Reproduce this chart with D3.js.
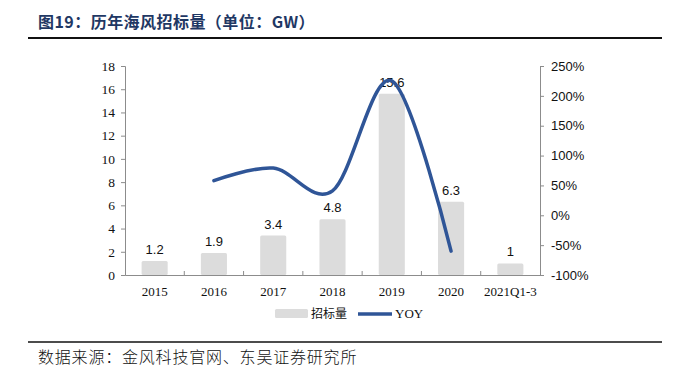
<!DOCTYPE html>
<html><head><meta charset="utf-8">
<script src="https://cdn.jsdelivr.net/npm/d3@7"></script>
<style>body{margin:0;background:#fff}svg{display:block}</style>
</head><body><svg id="c" width="690" height="378"></svg>
<script>
const categories = ["2015","2016","2017","2018","2019","2020","2021Q1-3"];
const bidVolume = [1.2, 1.9, 3.4, 4.8, 15.6, 6.3, 1];
const yoyCategories = ["2016","2017","2018","2019","2020"];
const yoyValues = [58, 79, 41, 225, -60];
const leftTicks = [0,2,4,6,8,10,12,14,16,18];
const rightTicks = [-100,-50,0,50,100,150,200,250];

const svg = d3.select("#c");
const L = 125, R = 540, T = 66, B = 275;
const x = d3.scaleBand().domain(categories).range([L, R]).paddingInner(0.56).paddingOuter(0.28);
const xb = d3.scaleBand().domain(categories).range([L, R]);
const y = d3.scaleLinear().domain([0, 18]).range([B, T]);
const y2 = d3.scaleLinear().domain([-100, 250]).range([B, T]);
const axisCol = "#8c8c8c";

// title
svg.append("text").attr("x", 38).attr("y", 28)
  .attr("font-family", "'Noto Sans CJK SC', sans-serif").attr("font-weight", "bold")
  .attr("font-size", 16).attr("letter-spacing", 0.45).attr("fill", "#1f3864").text("图19：历年海风招标量（单位：GW）");
svg.append("line").attr("x1", 28).attr("x2", 662).attr("y1", 38).attr("y2", 38)
  .attr("stroke", "#111").attr("stroke-width", 2);

// bars
svg.append("g").selectAll("rect").data(categories).join("rect")
  .attr("x", d => x(d)).attr("width", x.bandwidth())
  .attr("y", (d,i) => y(bidVolume[i])).attr("height", (d,i) => B - y(bidVolume[i]))
  .attr("rx", 1.5).attr("fill", "#dcdcdc");

// bar labels
svg.append("g").selectAll("text").data(categories).join("text")
  .attr("x", d => x(d) + x.bandwidth()/2).attr("y", (d,i) => y(bidVolume[i]) - 7)
  .attr("text-anchor", "middle").attr("font-family", "'Liberation Sans', Arial, sans-serif")
  .attr("font-size", 13).attr("fill", "#111")
  .text((d,i) => bidVolume[i]);

// left axis
const gl = svg.append("g").attr("transform", `translate(${L},0)`)
  .call(d3.axisLeft(y).tickValues(leftTicks).tickSize(4).tickPadding(6));
gl.select(".domain").attr("stroke", axisCol);
gl.selectAll("line").attr("stroke", axisCol);
gl.selectAll("text").attr("font-family", "'Liberation Serif', 'Times New Roman', serif").attr("font-size", 13.5).attr("fill", "#111");

// right axis
const gr = svg.append("g").attr("transform", `translate(${R},0)`)
  .call(d3.axisRight(y2).tickValues(rightTicks).tickSize(4).tickPadding(7).tickFormat(d => d + "%"));
gr.select(".domain").attr("stroke", axisCol);
gr.selectAll("line").attr("stroke", axisCol);
gr.selectAll("text").attr("font-family", "'Liberation Sans', Arial, sans-serif").attr("font-size", 13).attr("fill", "#111");

// x axis
const gx = svg.append("g").attr("transform", `translate(0,${B})`)
  .call(d3.axisBottom(xb).tickSize(0).tickPadding(12));
gx.select(".domain").attr("stroke", axisCol).attr("stroke-width", 1.2);
gx.selectAll("text").attr("font-family", "'Liberation Serif', 'Times New Roman', serif").attr("font-size", 13).attr("fill", "#111");
svg.append("g").selectAll("line").data(categories.slice(1)).join("line")
  .attr("x1", d => xb(d)).attr("x2", d => xb(d)).attr("y1", B).attr("y2", B - 4)
  .attr("stroke", axisCol);

// yoy line
const line = d3.line().x((d,i) => xb(yoyCategories[i]) + xb.bandwidth()/2).y(d => y2(d))
  .curve(d3.curveCatmullRom.alpha(0));
svg.append("path").datum(yoyValues).attr("d", line)
  .attr("fill", "none").attr("stroke", "#2f5597").attr("stroke-width", 3.5).attr("stroke-linecap", "round");

// legend
svg.append("rect").attr("x", 275).attr("y", 309).attr("width", 33).attr("height", 9).attr("rx", 1.5).attr("fill", "#dcdcdc");
svg.append("text").attr("x", 311).attr("y", 318).attr("font-family", "'Noto Sans CJK SC', serif")
  .attr("font-size", 12).attr("fill", "#111").text("招标量");
svg.append("line").attr("x1", 358).attr("x2", 392).attr("y1", 314).attr("y2", 314)
  .attr("stroke", "#2f5597").attr("stroke-width", 3.5);
svg.append("text").attr("x", 395).attr("y", 318).attr("font-family", "'Liberation Serif', serif")
  .attr("font-size", 13).attr("fill", "#111").text("YOY");

// source
svg.append("line").attr("x1", 28).attr("x2", 662).attr("y1", 342).attr("y2", 342)
  .attr("stroke", "#111").attr("stroke-width", 1.6);
svg.append("text").attr("x", 38).attr("y", 363).attr("font-family", "'Noto Sans CJK SC', sans-serif")
  .attr("font-size", 16).attr("letter-spacing", 0.8).attr("font-weight", 300).attr("fill", "#111").text("数据来源：金风科技官网、东吴证券研究所");
</script></body></html>
